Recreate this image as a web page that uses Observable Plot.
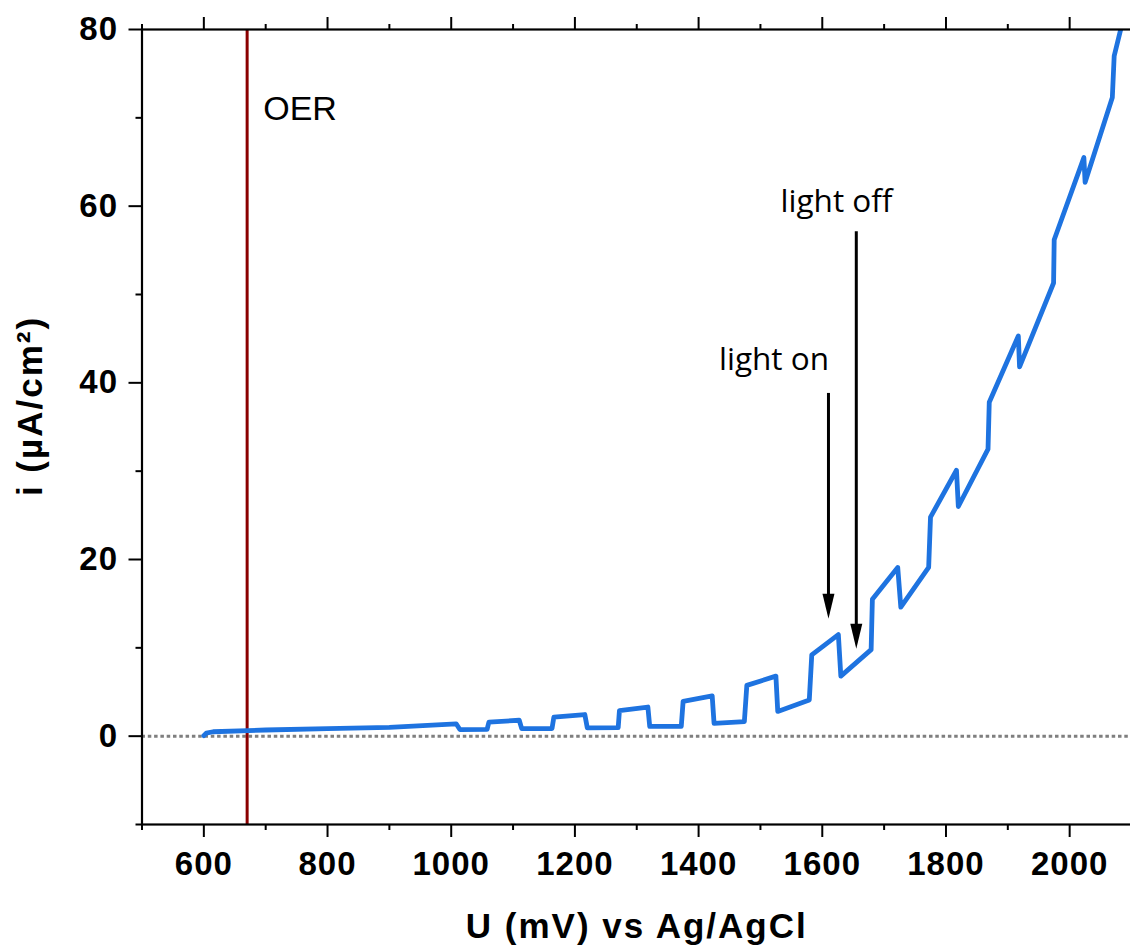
<!DOCTYPE html>
<html>
<head>
<meta charset="utf-8">
<script src="https://cdn.jsdelivr.net/npm/d3@7"></script>
<script src="https://cdn.jsdelivr.net/npm/@observablehq/plot@0.6"></script>
<style>
  html, body { margin: 0; padding: 0; background: white; }
  #chart svg { display: block; }
</style>
</head>
<body>
<div id="chart"></div>
<script>
// Chopped-light linear sweep: current density vs potential
const potential = [600, 604, 615, 700, 800, 900, 1008, 1014, 1058, 1061, 1110, 1114, 1163, 1166,
  1216, 1220, 1270, 1272, 1318, 1321, 1372, 1375, 1422, 1425, 1474, 1478, 1525, 1528, 1579, 1583,
  1626, 1630, 1679, 1681, 1722, 1727, 1772, 1775, 1817, 1820, 1868, 1870, 1917, 1919, 1974, 1975,
  2023, 2025, 2069, 2072, 2086];
const current = [0.05, 0.35, 0.5, 0.7, 0.85, 1.0, 1.4, 0.75, 0.77, 1.6, 1.8, 0.85, 0.87, 2.15,
  2.45, 0.95, 0.97, 2.9, 3.3, 1.1, 1.12, 3.95, 4.55, 1.45, 1.65, 5.75, 6.8, 2.8, 4.1, 9.2,
  11.5, 6.8, 9.8, 15.5, 19.1, 14.6, 19.1, 24.8, 30.1, 26.0, 32.5, 37.8, 45.3, 41.8, 51.3, 56.2,
  65.5, 62.7, 72.3, 77.0, 81.0];

// OER onset marker
const oerPotential = 670;
const oerLabel = "OER";
const oerLabelX = 696;
const oerLabelY = 69.8;

// Light on / off annotations
const arrowLabels = ["light on", "light off"];
const arrowX = [1610, 1655];
const arrowTop = [38.8, 57.1];
const arrowTip = [13.3, 9.9];
const arrowLabelX = [1522, 1623];
const arrowLabelY = [41.4, 59.3];

// Axis ticks and titles
const xMajorTicks = [600, 800, 1000, 1200, 1400, 1600, 1800, 2000];
const xMinorTicks = [500, 700, 900, 1100, 1300, 1500, 1700, 1900, 2100];
const yMajorTicks = [0, 20, 40, 60, 80];
const yMinorTicks = [-10, 10, 30, 50, 70];
const xTitle = "U (mV) vs Ag/AgCl";
const yTitle = "i (µA/cm²)";

const sweep = potential.map((u, k) => ({u, i: current[k]}));
const arrows = arrowLabels.map((label, k) => ({
  label, x: arrowX[k], top: arrowTop[k], tip: arrowTip[k], lx: arrowLabelX[k], ly: arrowLabelY[k]
}));

// Narrow filled arrowhead with its tip at the origin, pointing down
const arrowHead = {
  draw(context) {
    context.moveTo(0, 0);
    context.lineTo(-6, -25);
    context.lineTo(6, -25);
    context.closePath();
  }
};

const fmt = d => String(d);

const chart = Plot.plot({
  width: 1130,
  height: 945,
  marginLeft: 141.5,
  marginRight: -1,
  marginTop: 29,
  marginBottom: 121,
  x: {domain: [500, 2100], label: null},
  y: {domain: [-10, 80], label: null},
  style: {
    fontFamily: "'Liberation Sans', Arial, sans-serif",
    fontWeight: "bold",
    background: "white",
    color: "black",
    overflow: "hidden"
  },
  marks: [
    Plot.ruleY([0], {stroke: "#7f7f7f", strokeWidth: 3, strokeDasharray: "3.5,2.8"}),
    Plot.ruleX([oerPotential], {stroke: "#8b0000", strokeWidth: 3}),
    Plot.line(sweep, {x: "u", y: "i", stroke: "#1e73e0", strokeWidth: 4.8, clip: true}),
    Plot.ruleX(arrows, {x: "x", y1: "top", y2: d => d.tip + 2, stroke: "black", strokeWidth: 3}),
    Plot.dot(arrows, {x: "x", y: "tip", symbol: arrowHead, fill: "black"}),
    Plot.text(arrows, {
      x: "lx", y: "ly", text: "label", textAnchor: "middle", lineAnchor: "bottom",
      fontFamily: "'Open Sans', sans-serif", fontSize: 31.5, fontWeight: "normal", fill: "black"
    }),
    Plot.text([oerLabel], {
      x: [oerLabelX], y: [oerLabelY], text: d => d, textAnchor: "start", lineAnchor: "bottom",
      fontFamily: "'Liberation Sans', Arial, sans-serif", fontSize: 34, fontWeight: "normal", fill: "black"
    }),
    // bottom axis
    Plot.axisX({anchor: "bottom", ticks: xMajorTicks, tickSize: 13, tickPadding: 14, tickFormat: fmt,
      fontSize: 33, strokeWidth: 2, label: null}),
    Plot.axisX({anchor: "bottom", ticks: xMinorTicks, tickSize: 6, tickFormat: () => "", strokeWidth: 2, label: null}),
    // top axis (ticks only)
    Plot.axisX({anchor: "top", ticks: xMajorTicks, tickSize: 13, tickFormat: () => "", strokeWidth: 2, label: null}),
    Plot.axisX({anchor: "top", ticks: xMinorTicks, tickSize: 6, tickFormat: () => "", strokeWidth: 2, label: null}),
    // left axis
    Plot.axisY({anchor: "left", ticks: yMajorTicks, tickSize: 13, tickPadding: 11, tickFormat: fmt,
      fontSize: 33, strokeWidth: 2, label: null}),
    Plot.axisY({anchor: "left", ticks: yMinorTicks, tickSize: 6, tickFormat: () => "", strokeWidth: 2, label: null}),
    // axis titles
    Plot.text([xTitle], {frameAnchor: "bottom", dy: 113, text: d => d, textAnchor: "middle",
      lineAnchor: "bottom", fontSize: 35, fontWeight: "bold", fill: "black"}),
    Plot.text([yTitle], {frameAnchor: "left", dx: -111.5, dy: -21, rotate: -90, text: d => d,
      textAnchor: "middle", lineAnchor: "middle", fontSize: 35, fontWeight: "bold", fill: "black"}),
    Plot.frame({stroke: "black", strokeWidth: 2.2})
  ]
});

// Widen the bold axis lettering slightly
const tickStrings = new Set([...xMajorTicks, ...yMajorTicks].map(String));
d3.select(chart).selectAll("text").each(function() {
  const t = this.textContent;
  if (t === xTitle || t === yTitle) this.style.letterSpacing = "2px";
  else if (tickStrings.has(t)) this.style.letterSpacing = "1px";
});

document.getElementById("chart").append(chart);
</script>
</body>
</html>
